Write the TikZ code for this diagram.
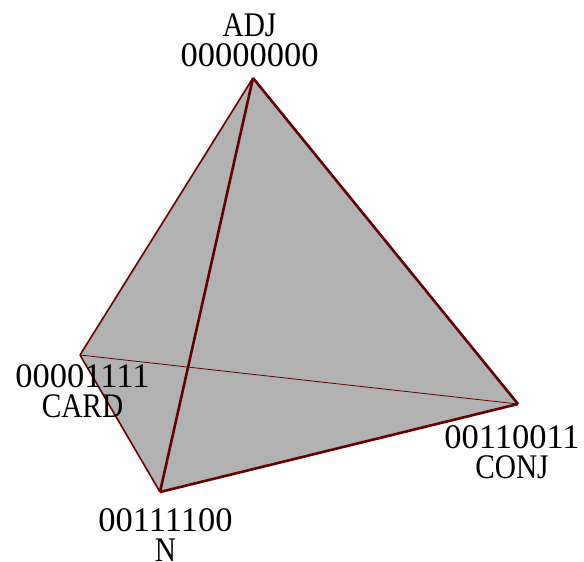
\documentclass[tikz,border=0pt]{standalone}
\usepackage{fontspec}
\setmainfont{Liberation Serif}
\newfontfamily\capfont[FakeStretch=0.85]{Liberation Serif}
\definecolor{edge}{RGB}{100,0,0}
\definecolor{face}{RGB}{178,178,178}
\tikzset{lab/.style={font=\fontsize{34.5}{30}\selectfont,align=center,text=black,inner sep=0pt},
 thin edge/.style={edge,line width=0.8pt},
 mid edge/.style={edge,line width=1.6pt},
 thick edge/.style={edge,line width=2.6pt}}
\begin{document}
\begin{tikzpicture}[x=1pt,y=-1pt]
\useasboundingbox (0,0) rectangle (584,562);
\coordinate (A) at (253,78);
\coordinate (B) at (80,355);
\coordinate (C) at (518,404);
\coordinate (D) at (160,492);
\fill[face] (A)--(C)--(D)--(B)--cycle;
\draw[mid edge] (A)--(B);
\draw[thick edge] (A)--(C);
\draw[thick edge] (C)--(D);
\draw[mid edge] (B)--(D);
\draw[thick edge] (A)--(D);
\draw[thin edge] (B)--(C);
\node[lab] (a) at (249.5,40) {{\capfont ADJ}\\00000000};
\node[lab] (b) at (82.5,391) {00001111\\{\capfont CARD}};
\node[lab] (c) at (512,452) {00110011\\{\capfont CONJ}};
\node[lab] (d) at (165.5,535) {00111100\\{\capfont N}};
\end{tikzpicture}
\end{document}
